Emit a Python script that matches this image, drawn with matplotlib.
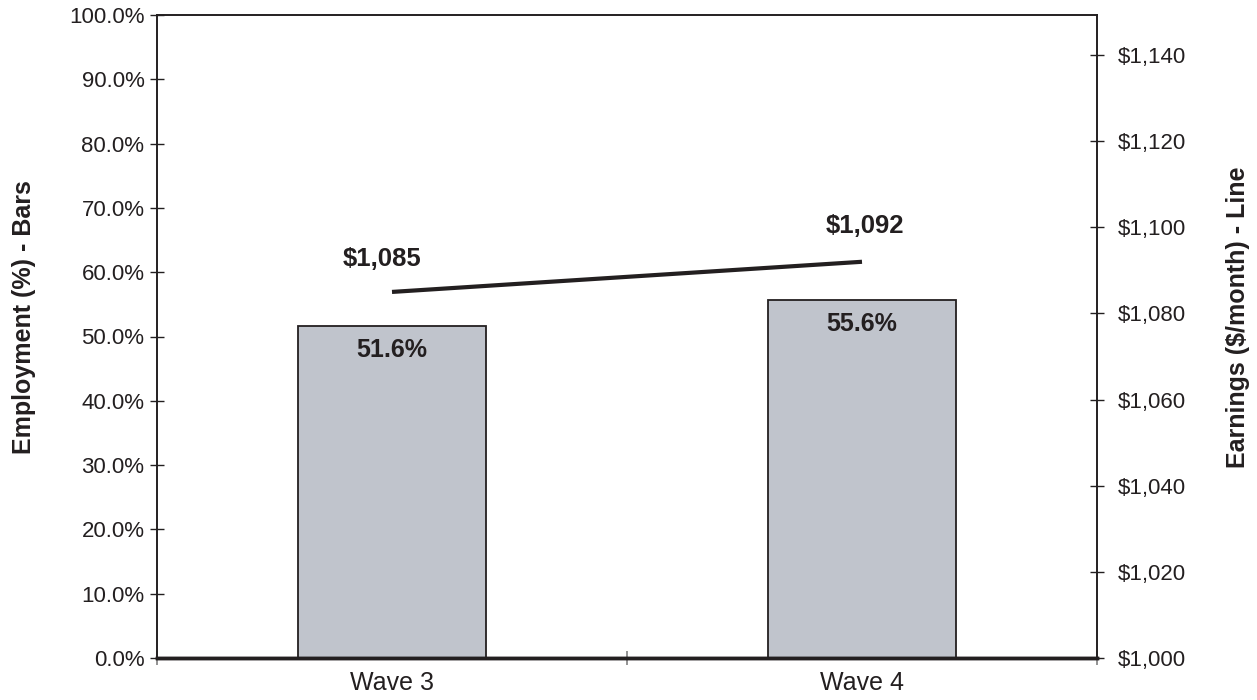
import matplotlib.pyplot as plt
from matplotlib.ticker import FuncFormatter

plt.rcParams['font.family'] = ['Liberation Sans', 'DejaVu Sans']

waves = ['Wave 3', 'Wave 4']
employment = [51.6, 55.6]
earnings = [1085, 1092]

dark = '#231F20'
bar_col = '#C0C4CC'

fig = plt.figure(figsize=(12.57, 7), dpi=100)
ax = fig.add_axes([157 / 1257, 1 - 658 / 700, 940 / 1257, 643 / 700])
ax2 = ax.twinx()

x = list(range(len(waves)))
ax.bar(x, employment, width=0.4, color=bar_col, edgecolor=dark, linewidth=1.3, zorder=2)
ax.set_xlim(-0.5, 1.5)
ax.set_ylim(0, 100)
ax.set_yticks(range(0, 101, 10))
ax.yaxis.set_major_formatter(FuncFormatter(lambda v, p: f'{v:.1f}%'))
ax.set_xticks([-0.5, 0.5, 1.5])
ax.set_xticklabels([])
ax.set_xticks(x, minor=True)
ax.set_xticklabels(waves, minor=True)
ax.tick_params(axis='x', which='minor', length=0, labelsize=18, colors=dark, pad=9)
ax.tick_params(axis='x', which='major', direction='inout', length=10, color='#808080', width=1.2)
ax.tick_params(axis='y', direction='inout', length=10, labelsize=16, labelcolor=dark, color=dark, width=1.0, pad=4)

for i, v in enumerate(employment):
    ax.annotate(f'{v:.1f}%', (x[i], v), xytext=(0, -17), textcoords='offset points',
                ha='center', va='center', fontsize=18, fontweight='bold', color=dark)

ax2.plot(x, earnings, color=dark, linewidth=3, solid_capstyle='butt', zorder=3)
ax2.set_ylim(1000, 1149.3)
ax2.set_yticks(range(1000, 1141, 20))
ax2.yaxis.set_major_formatter(FuncFormatter(lambda v, p: f'${v:,.0f}'))
ax2.tick_params(axis='y', direction='inout', length=10, labelsize=16, labelcolor=dark, color=dark, width=1.0, pad=10)

offsets = [(-7, 24), (2, 26)]
for i, v in enumerate(earnings):
    ax2.annotate(f'${v:,}', (x[i], v), xytext=offsets[i], textcoords='offset points',
                 ha='center', va='center', fontsize=18.5, fontweight='bold', color=dark)

for a in (ax, ax2):
    for s in ('left', 'right', 'top'):
        a.spines[s].set_color(dark)
        a.spines[s].set_linewidth(1.2)
    a.spines['bottom'].set_color(dark)
    a.spines['bottom'].set_linewidth(2.5)

ax.set_ylabel('Employment (%) - Bars', fontsize=18, fontweight='bold', color=dark)
ax.yaxis.set_label_coords(-0.129, 0.53)
ax2.set_ylabel('Earnings ($/month) - Line', fontsize=18, fontweight='bold', color=dark)
ax2.yaxis.set_label_coords(1.137, 0.53)

fig.savefig('out.png', dpi=100)
